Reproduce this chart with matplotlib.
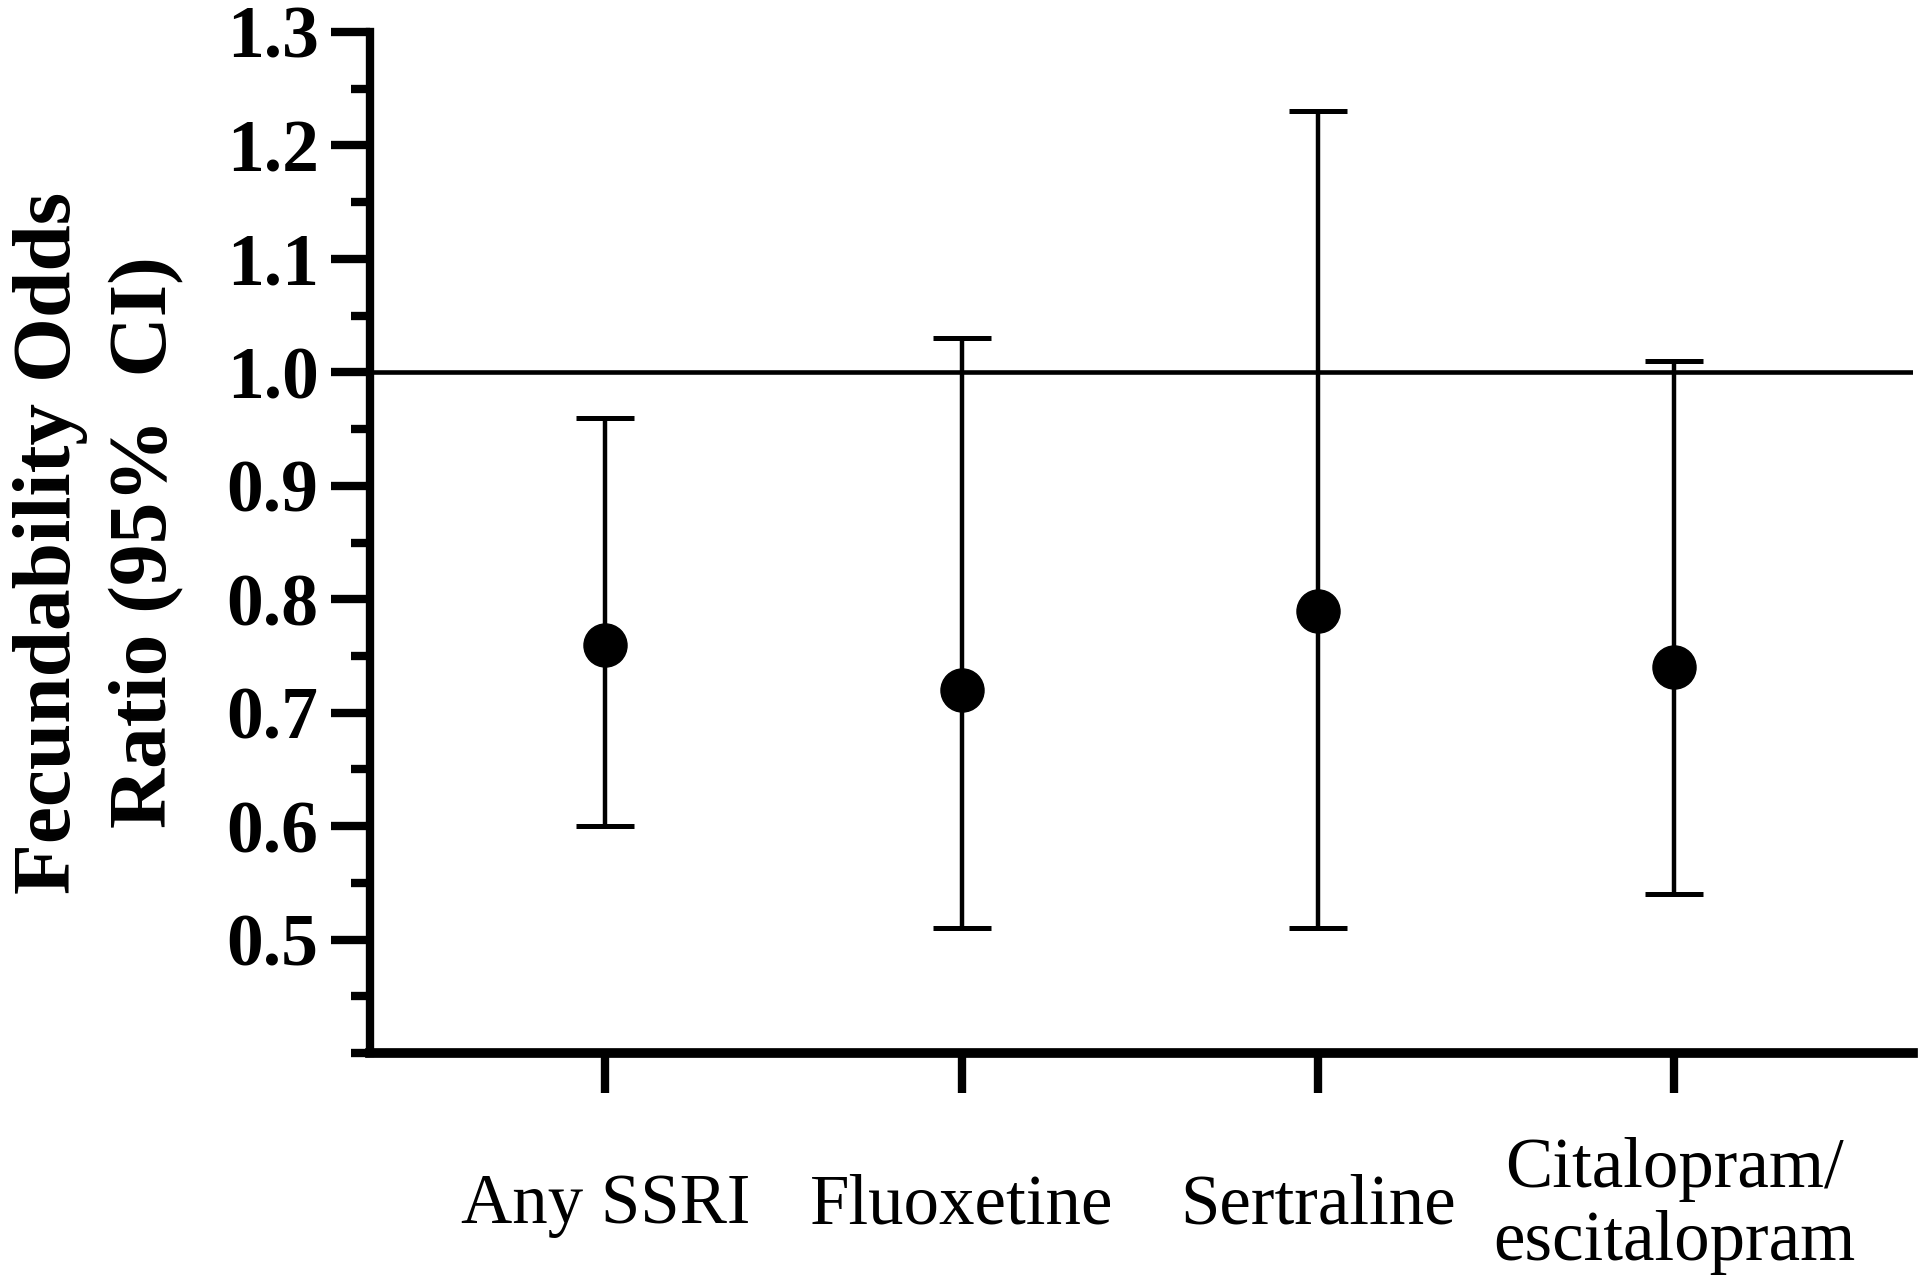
import numpy as np
import matplotlib
matplotlib.use('Agg')
import matplotlib.pyplot as plt
import matplotlib.transforms as mtransforms
from matplotlib.ticker import MultipleLocator

# data
drugs = ['Any SSRI', 'Fluoxetine', 'Sertraline', 'Citalopram/\nescitalopram']
odds_ratio = [0.76, 0.72, 0.79, 0.74]
ci_low = [0.60, 0.51, 0.51, 0.54]
ci_high = [0.96, 1.03, 1.23, 1.01]

plt.rcParams['font.family'] = ['Liberation Serif', 'DejaVu Serif']

fig = plt.figure(figsize=(19.2, 12.78), dpi=100)
ax = fig.add_axes([0.1927, 0.176, 0.8037, 0.799])

x = np.arange(len(drugs))
yerr = [np.array(odds_ratio) - np.array(ci_low), np.array(ci_high) - np.array(odds_ratio)]
ax.axhline(1.0, color='black', lw=3.3, zorder=1)
ax.errorbar(x, odds_ratio, yerr=yerr, fmt='o', color='black', ms=31,
            elinewidth=3.2, capsize=21, capthick=3.6, zorder=3)

ax.set_xlim(-0.66, 3.67)
ax.set_ylim(0.4, 1.3)
ax.yaxis.set_minor_locator(MultipleLocator(0.05))
yt = np.arange(0.5, 1.31, 0.1)
ax.set_yticks(yt)
ax.set_yticklabels(['%.1f' % v for v in yt], fontsize=53, fontweight='bold')
ax.set_xticks(x)
ax.set_xticklabels(drugs, fontsize=51, linespacing=1.15)
shift = mtransforms.ScaledTranslation(-12 / 72, 0, fig.dpi_scale_trans)
for lab in ax.get_xticklabels():
    lab.set_verticalalignment('center')
    lab.set_transform(lab.get_transform() + shift)

ax.spines['top'].set_visible(False)
ax.spines['right'].set_visible(False)
ax.spines['left'].set_linewidth(6)
ax.spines['bottom'].set_linewidth(7)
ax.tick_params(axis='y', which='major', length=28, width=6, pad=9)
ax.tick_params(axis='y', which='minor', length=14, width=6)
ax.tick_params(axis='x', which='major', length=29, width=6, pad=81)

ax.set_ylabel('Fecundability Odds\nRatio (95%  CI)', fontsize=60,
              fontweight='bold', linespacing=1.38)
ax.yaxis.set_label_coords(-0.12, 0.5)

plt.savefig('out.png', dpi=100)
